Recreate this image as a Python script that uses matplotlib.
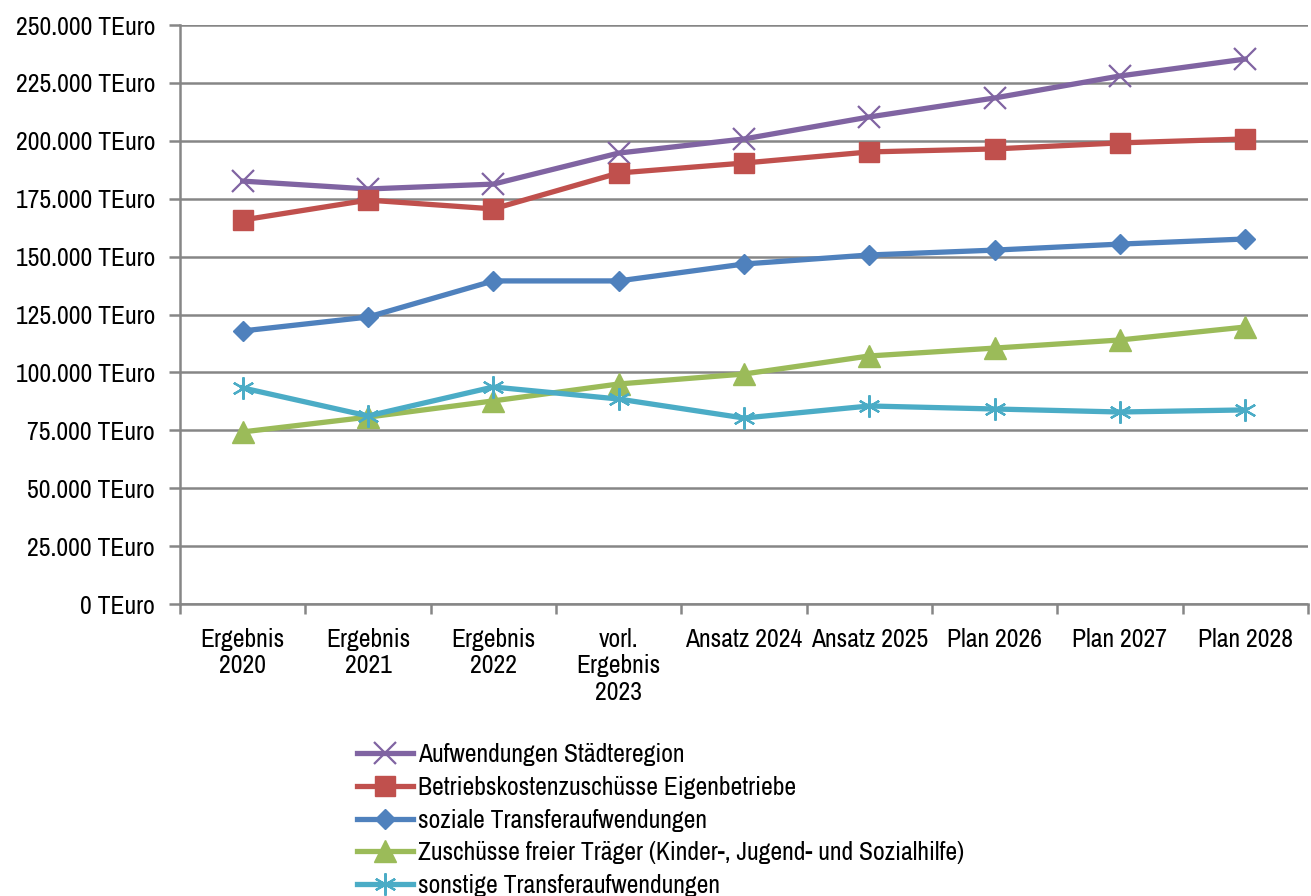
import matplotlib
matplotlib.use("Agg")
import matplotlib.pyplot as plt
from matplotlib import font_manager
from matplotlib.ticker import FuncFormatter, MultipleLocator, FixedLocator
import numpy as np

categories = ["Ergebnis\n2020", "Ergebnis\n2021", "Ergebnis\n2022", "vorl.\nErgebnis\n2023",
              "Ansatz 2024", "Ansatz 2025", "Plan 2026", "Plan 2027", "Plan 2028"]

aufwendungen = [182600, 179200, 181300, 194700, 200800, 210300, 218500, 228000, 235300]
betriebskosten = [165800, 174400, 170600, 186100, 190400, 195200, 196500, 199100, 200800]
soziale = [117900, 123900, 139500, 139500, 146800, 150700, 152800, 155400, 157600]
zuschuesse = [74300, 80700, 87700, 95000, 99300, 107100, 110500, 114000, 119600]
sonstige = [93300, 81200, 93700, 88500, 80300, 85500, 84200, 82900, 83800]

series_names = ["Aufwendungen Städteregion",
                "Betriebskostenzuschüsse Eigenbetriebe",
                "soziale Transferaufwendungen",
                "Zuschüsse freier Träger (Kinder-, Jugend- und Sozialhilfe)",
                "sonstige Transferaufwendungen"]

names = sorted({f.name for f in font_manager.fontManager.ttflist})
narrow = [n for n in names if ("Narrow" in n or "Condensed" in n) and "Mono" not in n]
fam = narrow[:1] + ['Liberation Sans', 'DejaVu Sans']
plt.rcParams['font.family'] = fam
fs = 18.5 if narrow else 16

fig = plt.figure(figsize=(13.11, 8.96), dpi=100)
ax = fig.add_axes([180/1311, 1-604/896, 1128/1311, 579/896])

x = np.arange(len(categories))
grid_c = "#868686"

styles = [
    (aufwendungen, "#8064A2", dict(marker="x", markersize=16, markeredgewidth=1.6)),
    (betriebskosten, "#C0504D", dict(marker="s", markersize=14.5)),
    (soziale, "#4F81BD", dict(marker="D", markersize=10.5)),
    (zuschuesse, "#9BBB59", dict(marker="^", markersize=15.5)),
    (sonstige, "#4BACC6", dict(marker=(6, 2, 0), markersize=16, markeredgewidth=1.6)),
]
for (vals, col, mk), name in zip(styles, series_names):
    ax.plot(x, vals, color=col, linewidth=3.8, markerfacecolor=col, markeredgecolor=col,
            label=name, zorder=3, **mk)

ax.set_xlim(-0.5, len(categories) - 0.5)
ax.set_ylim(0, 250000)
ax.yaxis.set_major_locator(MultipleLocator(25000))
ax.yaxis.set_major_formatter(FuncFormatter(lambda v, p: f"{int(v):,} TEuro".replace(",", ".")))
ax.grid(axis="y", color=grid_c, linewidth=1.8, zorder=0)
ax.set_axisbelow(True)

ax.set_xticks(x)
ax.set_xticklabels(categories, fontsize=fs, linespacing=1.2)
ax.xaxis.set_minor_locator(FixedLocator(np.arange(-0.5, len(categories), 1.0)))
ax.tick_params(axis="x", which="major", length=0, pad=17)
ax.tick_params(axis="x", which="minor", length=7, width=1.8, color=grid_c, direction="out")
ax.tick_params(axis="y", length=8, width=1.8, color=grid_c, labelsize=fs, pad=10)
for lab in ax.get_xticklabels():
    lab.set_verticalalignment("top")

for s in ["top", "right"]:
    ax.spines[s].set_visible(False)
for s in ["left", "bottom"]:
    ax.spines[s].set_color(grid_c)
    ax.spines[s].set_linewidth(1.8)

fs_px = fs * 100 / 72
leg = fig.legend(loc="upper left", bbox_to_anchor=(357/1311, 1-743/896), frameon=False,
                 fontsize=fs, handlelength=56/fs_px, handletextpad=5/fs_px,
                 labelspacing=0.38, borderaxespad=0, borderpad=0)

fig.savefig("out.png", dpi=100)
